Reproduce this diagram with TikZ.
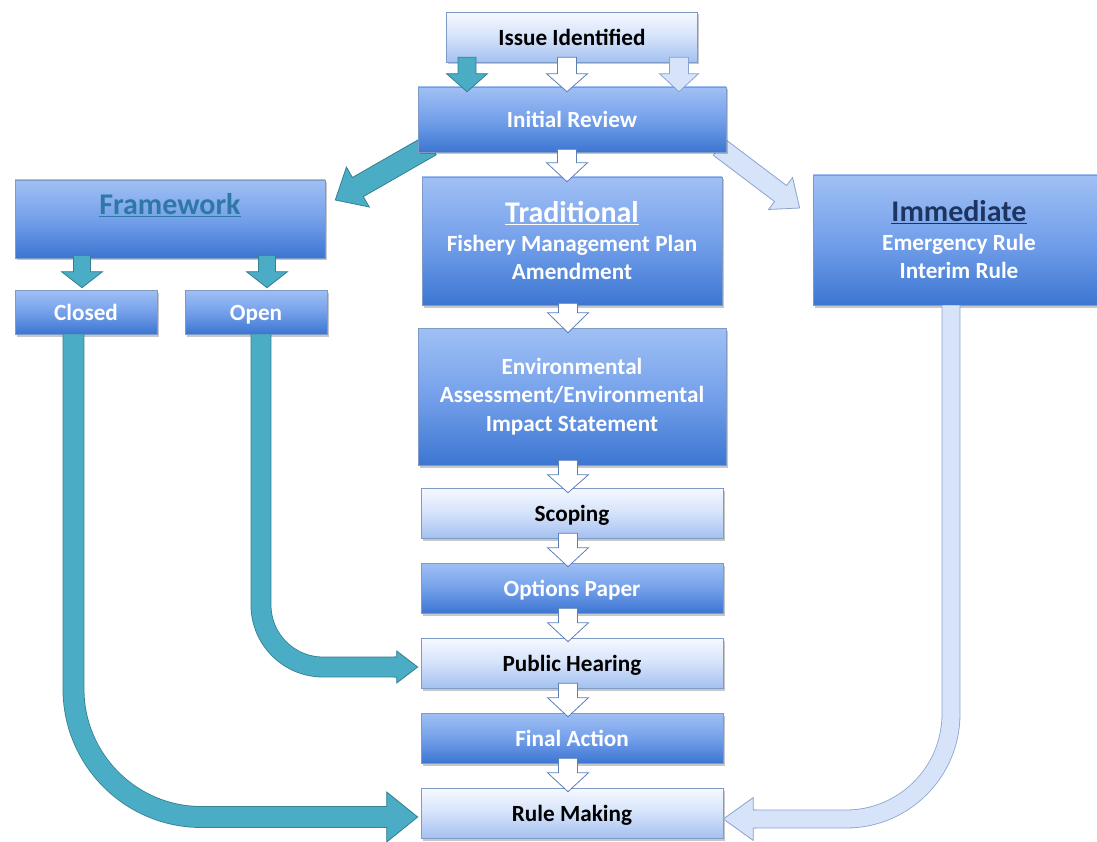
\documentclass[tikz,border=0pt]{standalone}
\usepackage{fontspec}
\setmainfont{Carlito}
\usetikzlibrary{calc,shadows}
\pgfdeclarelayer{bg}
\pgfsetlayers{bg,main}
\definecolor{tealF}{HTML}{4BACC6}
\definecolor{tealD}{HTML}{33808F}
\definecolor{lbF}{HTML}{D6E3F8}
\definecolor{lbD}{HTML}{8AA3D0}
\definecolor{whD}{HTML}{5D7FB8}
\definecolor{dkT}{HTML}{A0C0F4}
\definecolor{dkM}{HTML}{74A0EA}
\definecolor{dkB}{HTML}{3C76D2}
\definecolor{ltT}{HTML}{F6F9FF}
\definecolor{ltM}{HTML}{D4E2FA}
\definecolor{ltB}{HTML}{A4C1F0}
\definecolor{boxD}{HTML}{7F9AC4}
\definecolor{fwC}{HTML}{2F78A6}
\definecolor{imC}{HTML}{1D3461}

% closed block arrow: style, from, to, shaft half width, head half width, head length
\newcommand\barrow[6]{%
  \coordinate (baA) at (#2);
  \coordinate (baB) at (#3);
  \coordinate (baH) at ($(baB)!#6pt!(baA)$);
  \path[#1] ($(baA)!#4pt!90:(baB)$) -- ($(baH)!#4pt!90:(baB)$) -- ($(baH)!#5pt!90:(baB)$) -- (baB)
    -- ($(baH)!#5pt!-90:(baB)$) -- ($(baH)!#4pt!-90:(baB)$) -- ($(baA)!#4pt!-90:(baB)$) -- cycle;}
% arrow head with open tail (joins a shaft)
\newcommand\bhead[6]{%
  \coordinate (baA) at (#2);
  \coordinate (baB) at (#3);
  \coordinate (baH) at ($(baB)!#6pt!(baA)$);
  \path[#1] ($(baA)!#4pt!90:(baB)$) -- ($(baH)!#4pt!90:(baB)$) -- ($(baH)!#5pt!90:(baB)$) -- (baB)
    -- ($(baH)!#5pt!-90:(baB)$) -- ($(baH)!#4pt!-90:(baB)$) -- ($(baA)!#4pt!-90:(baB)$);}

\tikzset{
  bx/.style={rectangle, draw=boxD, line width=0.6pt, align=center, inner sep=0pt,
    font=\bfseries\fontsize{23.2}{28.5}\selectfont,
    drop shadow={opacity=0.22, shadow xshift=1.5pt, shadow yshift=-2.5pt, fill=black}},
  darkbox/.style={bx, top color=dkT, bottom color=dkB, middle color=dkM, text=white},
  lightbox/.style={bx, top color=ltT, bottom color=ltB, middle color=ltM, text=black},
  oneline/.style={text height=20pt, text depth=3pt},
  tealA/.style={fill=tealF, draw=tealD, line width=0.8pt, line join=miter},
  whiteA/.style={fill=white, draw=whD, line width=0.8pt, line join=miter},
  lightA/.style={fill=lbF, draw=lbD, line width=0.8pt, line join=miter},
  tealS/.style={draw=tealD, line width=0.8pt, double=tealF},
  lightS/.style={draw=lbD, line width=0.8pt, double=lbF},
}
\newcommand\hdrfont{\fontsize{30}{31}\selectfont}

\begin{document}
\begin{tikzpicture}[x=1pt,y=-1pt]
\useasboundingbox (0,0) rectangle (1097,842);
\begin{pgfonlayer}{bg}
\fill[white] (0,0) rectangle (1097,842);
\end{pgfonlayer}

% boxes
\node[lightbox, oneline, minimum width=251, minimum height=50] (issue) at (572,37) {Issue Identified};
\node[darkbox, oneline, minimum width=308, minimum height=65] (init) at (572,119.5) {Initial Review};
\node[darkbox, minimum width=300, minimum height=128] (trad) at (572,241)
  {{\hdrfont\underline{Traditional}}\\Fishery Management Plan\\Amendment};
\node[darkbox, minimum width=308, minimum height=137] (ea) at (572,396.5)
  {Environmental\\Assessment/Environmental\\Impact Statement};
\node[lightbox, oneline, minimum width=302, minimum height=50] (scoping) at (572,513) {Scoping};
\node[darkbox, oneline, minimum width=302, minimum height=50] (options) at (572,588) {Options Paper};
\node[lightbox, oneline, minimum width=302, minimum height=50] (ph) at (572,663) {Public Hearing};
\node[darkbox, oneline, minimum width=302, minimum height=50] (fa) at (572,738) {Final Action};
\node[lightbox, oneline, minimum width=302, minimum height=50] (rm) at (572,813) {Rule Making};

\node[darkbox, minimum width=310, minimum height=78] (fw) at (170,219) {};
\node[anchor=base, text=fwC, font=\bfseries\hdrfont] (fwtext) at (170,215) {\underline{Framework}};
\node[darkbox, oneline, minimum width=142, minimum height=44] (closed) at (86,312) {Closed};
\node[darkbox, oneline, minimum width=142, minimum height=44] (open) at (256,312) {Open};
\node[darkbox, minimum width=292, minimum height=130] (imm) at (959,240)
  {{\hdrfont\color{imC}\underline{Immediate}}\\Emergency Rule\\Interim Rule};

% diagonal arrows (behind boxes)
\begin{pgfonlayer}{bg}
\barrow{tealA}{$(init.south west)+(13,-7)$}{$(fw.east)+(10,-19)$}{11}{23}{26}
\barrow{lightA}{$(init.south east)+(-7,-5)$}{$(imm.west)+(-13,-32)$}{10}{20}{24}
\end{pgfonlayer}

% short vertical arrows
\barrow{tealA}{$(issue.south)+(-105,-5)$}{$(init.north)+(-105,5)$}{9}{20.5}{18}
\barrow{whiteA}{$(issue.south)+(-5,-5)$}{$(init.north)+(-5,5)$}{9.5}{20.5}{18}
\barrow{lightA}{$(issue.south)+(107,-5)$}{$(init.north)+(107,5)$}{9.5}{19.5}{18}
\barrow{whiteA}{$(init.south)+(-5,-3)$}{$(trad.north)+(-5,5)$}{9.5}{20.5}{19}
\barrow{whiteA}{$(trad.south)+(-4,-2)$}{$(ea.north)+(-4,5)$}{9.5}{20.5}{20}
\barrow{whiteA}{$(ea.south)+(-4,-5)$}{$(scoping.north)+(-4,5)$}{9.5}{20.5}{18}
\barrow{whiteA}{$(scoping.south)+(-4,-5)$}{$(options.north)+(-4,4)$}{9.5}{20.5}{19}
\barrow{whiteA}{$(options.south)+(-4,-5)$}{$(ph.north)+(-4,4)$}{9.5}{20.5}{19}
\barrow{whiteA}{$(ph.south)+(-4,-5)$}{$(fa.north)+(-4,4)$}{9.5}{20.5}{19}
\barrow{whiteA}{$(fa.south)+(-4,-5)$}{$(rm.north)+(-4,4)$}{9.5}{20.5}{19}
\barrow{tealA}{$(fw.south)+(-88,-3)$}{$(closed.north)+(-4,-2)$}{8.5}{20.5}{16}
\barrow{tealA}{$(fw.south)+(97,-3)$}{$(open.north)+(11,-2)$}{8.5}{20.5}{16}

% curved arrows
\coordinate (cTip) at ($(rm.west)+(-3,4)$);
\coordinate (cBase) at ($(cTip)+(-31,0)$);
\draw[tealS, double distance=20.2pt, rounded corners=128pt] ($(closed.south)+(-12.5,0)$) |- (cBase);
\bhead{tealA}{$(cBase)+(-3,0)$}{cTip}{10.5}{25}{31}

\coordinate (oTip) at ($(ph.west)+(-3,4)$);
\coordinate (oBase) at ($(oTip)+(-21,0)$);
\draw[tealS, double distance=19.2pt, rounded corners=62pt] ($(open.south)+(5,0)$) |- (oBase);
\bhead{tealA}{$(oBase)+(-3,0)$}{oTip}{10}{16}{21}

\coordinate (iTip) at ($(rm.east)+(0,6)$);
\coordinate (iBase) at ($(iTip)+(30,0)$);
\draw[lightS, double distance=17.2pt, rounded corners=105pt] ($(imm.south)+(-8,0)$) |- (iBase);
\bhead{lightA}{$(iBase)+(3,0)$}{iTip}{9}{21.5}{30}
\end{tikzpicture}
\end{document}
